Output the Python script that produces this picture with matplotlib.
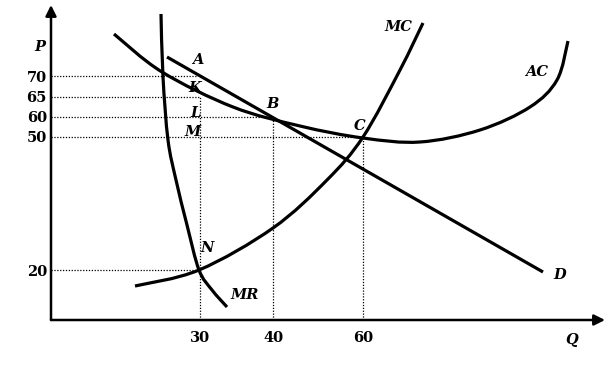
import numpy as np
import matplotlib.pyplot as plt
from matplotlib.path import Path
from matplotlib.patches import PathPatch

# diagram units: x = distance along Q axis, y = height along P axis (schematic, not to scale)
q_tick_pos = [149, 222, 312]
q_tick_labels = ['30', '40', '60']
p_tick_pos = [244, 223, 203, 183, 50]
p_tick_labels = ['70', '65', '60', '50', '20']

mr_x = [110, 112, 117, 125, 136, 148, 161, 176]
mr_y = [306, 243, 180, 140, 95, 50, 30, 13]

d_x = [116, 492]
d_y = [263, 48]

ac_x = [63, 111, 182, 249, 312, 369, 429, 479, 506, 517]
ac_y = [286, 248, 213, 194, 182, 178, 190, 213, 240, 279]

mc_x = [84, 148, 222, 276, 312, 349, 372]
mc_y = [34, 50, 92, 140, 183, 250, 297]

# guide lines: (level, end)
h_guides = [(244, 146), (223, 149), (203, 222), (183, 312), (50, 148)]
v_guides = [(149, 223), (222, 203), (312, 183)]

point_labels = {'A': (147, 260), 'K': (144, 232), 'L': (144, 207), 'M': (142, 188),
                'B': (222, 216), 'C': (309, 194), 'N': (156, 72)}
curve_labels = {'MR': (194, 25), 'D': (509, 45), 'MC': (347, 293), 'AC': (486, 248)}


def smooth_curve(ax, xs, ys, lw):
    # Catmull-Rom through the read points, drawn as cubic Bezier path
    pts = np.column_stack([xs, ys]).astype(float)
    ext = np.vstack([pts[0], pts, pts[-1]])
    verts = [pts[0]]
    codes = [Path.MOVETO]
    for i in range(1, len(ext) - 2):
        p0, p1, p2, p3 = ext[i - 1], ext[i], ext[i + 1], ext[i + 2]
        verts += [p1 + (p2 - p0) / 6, p2 - (p3 - p1) / 6, p2]
        codes += [Path.CURVE4] * 3
    ax.add_patch(PathPatch(Path(verts, codes), fill=False, lw=lw,
                           edgecolor='black', capstyle='butt'))


fig = plt.figure(figsize=(6.05, 3.74), dpi=100)
ax = fig.add_axes([51 / 605, 54 / 374, 554 / 605, 315 / 374])
ax.set_xlim(0, 554)
ax.set_ylim(0, 315)
for s in ax.spines.values():
    s.set_visible(False)

# axes with arrows
arrow = dict(arrowstyle='-|>', lw=1.8, color='black', mutation_scale=16, shrinkA=0, shrinkB=0)
ax.annotate('', xy=(554, 0), xytext=(0, 0), arrowprops=arrow, annotation_clip=False)
ax.annotate('', xy=(0, 315), xytext=(0, 0), arrowprops=arrow, annotation_clip=False)

dot = dict(color='black', lw=0.9, linestyle=(0, (1, 1.3)))
for level, end in h_guides:
    ax.plot([0, end], [level, level], **dot)
for pos, top in v_guides:
    ax.plot([pos, pos], [0, top], **dot)

lw = 2.3
smooth_curve(ax, mr_x, mr_y, lw)
ax.plot(d_x, d_y, color='black', lw=lw, solid_capstyle='butt')
smooth_curve(ax, ac_x, ac_y, lw)
smooth_curve(ax, mc_x, mc_y, lw)

num_font = dict(family='DejaVu Serif', weight='bold', size=10.5)
let_font = dict(family='DejaVu Serif', weight='bold', style='italic', size=10.5)

ax.set_xticks(q_tick_pos, q_tick_labels, **num_font)
ax.set_yticks(p_tick_pos, p_tick_labels, **num_font)
ax.tick_params(length=0, pad=3)
ax.tick_params(axis='x', pad=8)

for name, (x, y) in {**point_labels, **curve_labels}.items():
    ax.text(x, y, name, ha='center', va='center', **let_font)

ax.text(-11, 273, 'P', ha='center', va='center', clip_on=False, **let_font)
ax.text(521, -20, 'Q', ha='center', va='center', clip_on=False, **let_font)

fig.savefig('out.png', dpi=100)
